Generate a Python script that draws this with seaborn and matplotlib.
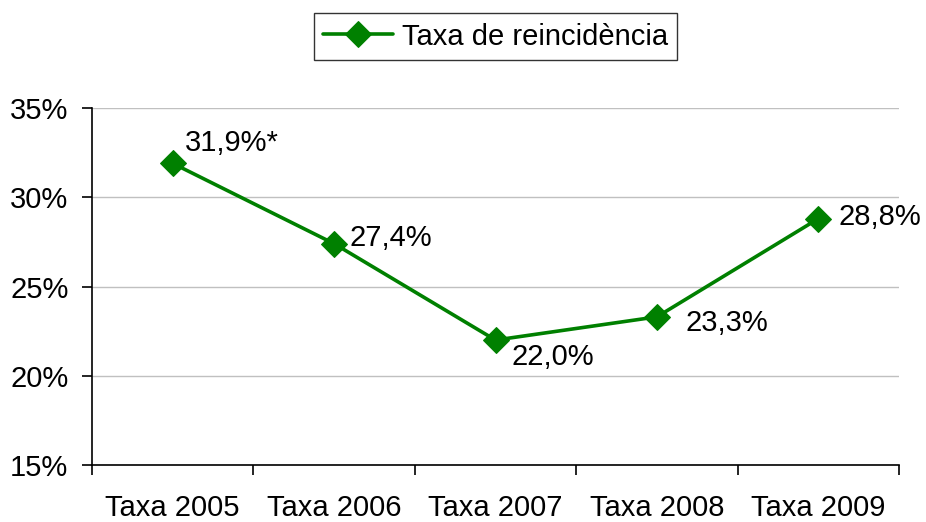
import pandas as pd
import seaborn as sns
import matplotlib.pyplot as plt
from matplotlib.ticker import FixedLocator, FuncFormatter

years = ['Taxa 2005', 'Taxa 2006', 'Taxa 2007', 'Taxa 2008', 'Taxa 2009']
rates = [31.9, 27.4, 22.0, 23.3, 28.8]
labels = ['31,9%*', '27,4%', '22,0%', '23,3%', '28,8%']

df = pd.DataFrame({'year': years, 'rate': rates})

sns.set_style('white')
plt.rcParams['font.family'] = ['Liberation Sans', 'DejaVu Sans']
plt.rcParams['text.color'] = 'black'
plt.rcParams['xtick.color'] = 'black'
plt.rcParams['ytick.color'] = 'black'

fig = plt.figure(figsize=(9.26, 5.22), dpi=100)
ax = fig.add_axes([0.0994, 0.1092, 0.8714, 0.6838])

fs = 21
green = '#008000'
sns.lineplot(data=df, x='year', y='rate', ax=ax, color=green, linewidth=2.6,
             marker='D', markersize=13, markeredgecolor=green,
             label='Taxa de reincidència', sort=False)

# data labels (offsets in pixels)
offsets = [(12, 20), (15, 6), (16, -17), (29, -6), (20, 2)]
for i, (lab, (dx, dy)) in enumerate(zip(labels, offsets)):
    ax.annotate(lab, (i, rates[i]), xytext=(dx, dy), textcoords='offset pixels',
                ha='left', va='center', fontsize=fs, color='black')

ax.set_ylim(15, 35)
ax.set_xlim(-0.5, 4.5)
ax.set_yticks([15, 20, 25, 30, 35])
ax.yaxis.set_major_formatter(FuncFormatter(lambda v, p: f'{v:.0f}%'))
ax.yaxis.grid(True, color='#c0c0c0', linewidth=1)
ax.set_axisbelow(True)

ax.set_xticks(range(5))
ax.set_xticklabels(years)
ax.xaxis.set_minor_locator(FixedLocator([-0.5, 0.5, 1.5, 2.5, 3.5, 4.5]))
ax.tick_params(axis='x', which='major', length=0, labelsize=fs, pad=21)
ax.tick_params(axis='x', which='minor', length=7, width=1.2, direction='out', bottom=True)
ax.tick_params(axis='y', length=7, width=1.2, direction='out', left=True, labelsize=fs, pad=10)

ax.set_xlabel('')
ax.set_ylabel('')
for s in ['top', 'right']:
    ax.spines[s].set_visible(False)
for s in ['left', 'bottom']:
    ax.spines[s].set_color('black')
    ax.spines[s].set_linewidth(1.2)

leg = ax.legend(loc='center', bbox_to_anchor=(0.5, 1.2), fontsize=fs, frameon=True,
                fancybox=False, edgecolor='black', handlelength=2.4, borderpad=0.32,
                handletextpad=0.3, borderaxespad=0)
leg.get_frame().set_linewidth(1)

fig.savefig('out.png', dpi=100)
